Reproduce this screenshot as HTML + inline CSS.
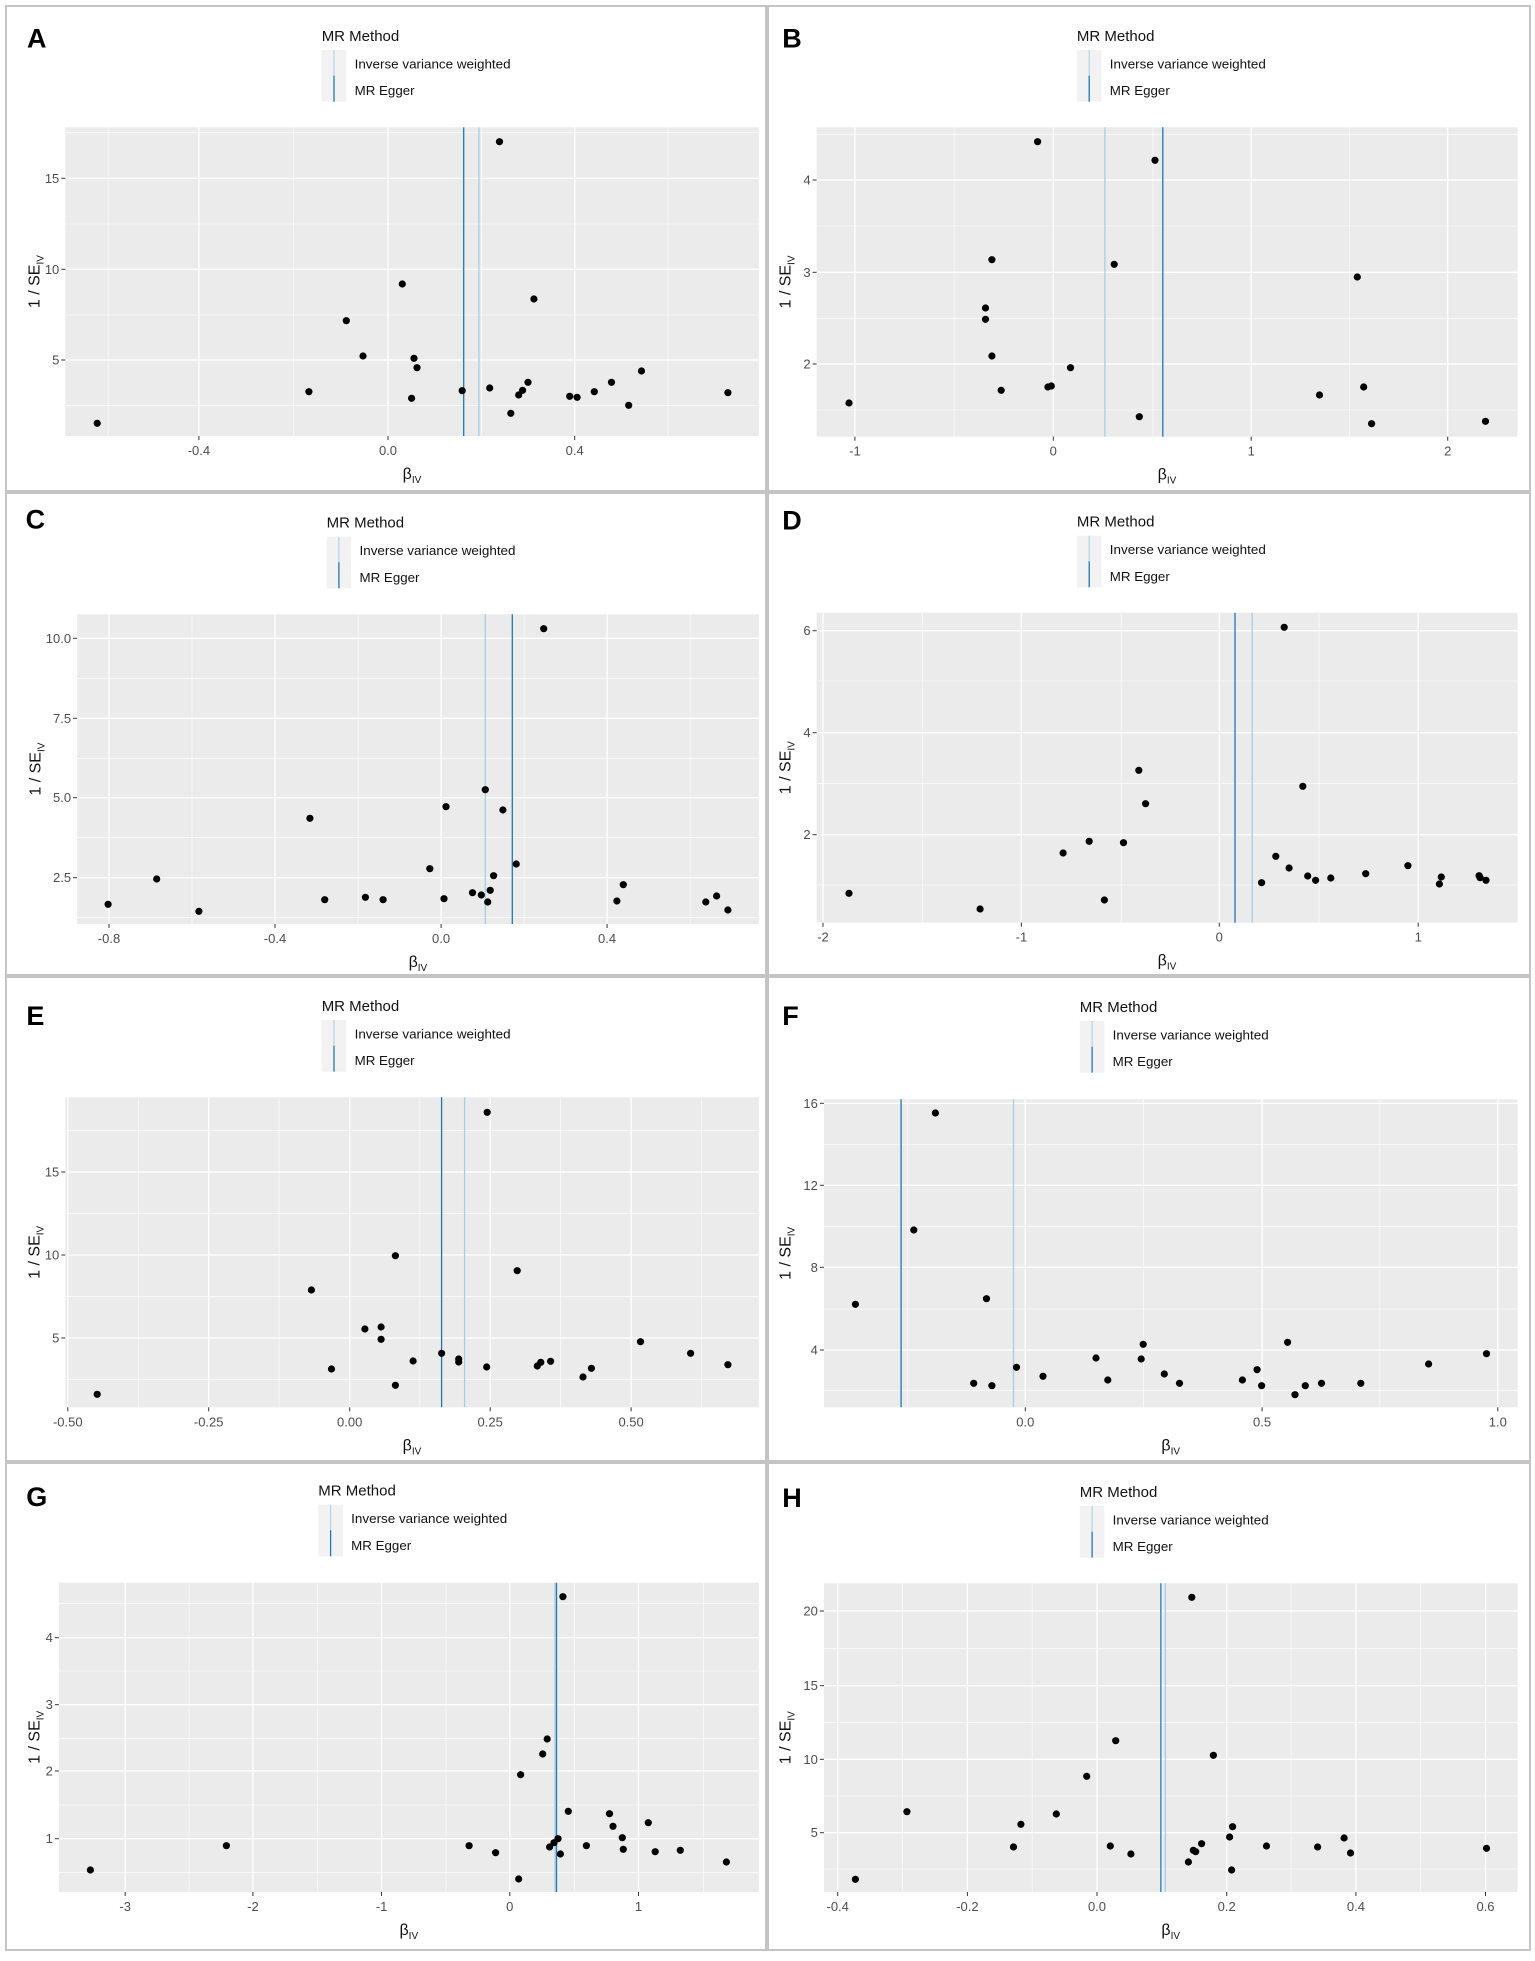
<!DOCTYPE html>
<html><head><meta charset="utf-8"><style>
html,body{margin:0;padding:0;background:#fff;}
svg text{font-family:"Liberation Sans",Arial,sans-serif;}
</style></head><body>
<svg id="s" xmlns="http://www.w3.org/2000/svg" width="1535" height="1956" viewBox="0 0 1535 1956">
<rect x="0" y="0" width="1535" height="1956" fill="#fff"/>
</svg>
<script>
var P=[
{o:[0,0],L:"A",lab:[75,112],leg:[655,105],pl:[133,382,1545,1308],
xt:[[405,"-0.4"],[790,"0.0"],[1170,"0.4"]],xm:[220,598,980,1360],
yt:[[535,"15"],[808,"10"],[1080,"5"]],ym:[398,672,945,1216],ivw:975,egg:944,
p:[[198,1270],[629,1175],[705,962],[739,1068],[819,852],[843,1075],[849,1103],[838,1195],[941,1172],[997,1164],[1017,425],[1040,1240],[1056,1185],[1064,1171],[1075,1147],[1087,897],[1160,1189],[1175,1192],[1210,1175],[1245,1147],[1280,1216],[1306,1113],[1482,1178]],yl:70},
{o:[765,0],L:"B",lab:[55,112],leg:[635,105],pl:[105,382,1532,1310],
xt:[[183,"-1"],[587,"0"],[990,"1"],[1390,"2"]],xm:[385,790,1190],
yt:[[540,"4"],[817,"3"],[1092,"2"]],ym:[403,678,955,1230],ivw:692,egg:810,
p:[[171,1209],[449,924],[449,958],[462,779],[462,1068],[481,1171],[555,425],[576,1161],[583,1158],[622,1103],[711,793],[762,1250],[794,481],[1129,1185],[1206,831],[1219,1161],[1235,1271],[1467,1264]],yl:42},
{o:[0,480],L:"C",lab:[72,115],leg:[665,125],pl:[157,403,1545,1332],
xt:[[222,"-0.8"],[560,"-0.4"],[898,"0.0"],[1236,"0.4"]],xm:[391,729,1067,1405],
yt:[[475,"10.0"],[715,"7.5"],[953,"5.0"],[1193,"2.5"]],ym:[595,835,1073,1312],ivw:988,egg:1043,
p:[[220,1273],[319,1197],[405,1294],[631,1015],[661,1259],[744,1252],[780,1259],[875,1166],[904,1256],[908,980],[962,1238],[980,1245],[993,1266],[998,1231],[988,929],[1005,1187],[1024,990],[1051,1152],[1107,446],[1256,1263],[1269,1214],[1437,1266],[1459,1248],[1482,1290]],yl:72},
{o:[765,480],L:"D",lab:[55,118],leg:[635,122],pl:[105,398,1532,1328],
xt:[[118,"-2"],[522,"-1"],[925,"0"],[1330,"1"]],xm:[320,725,1128],
yt:[[452,"6"],[758,"4"],[1064,"2"]],ym:[603,910,1215],ivw:992,egg:957,
p:[[171,1240],[438,1287],[607,1119],[660,1084],[691,1260],[730,1088],[761,871],[775,971],[1011,1208],[1040,1129],[1067,1164],[1057,442],[1095,919],[1105,1188],[1121,1201],[1152,1194],[1223,1181],[1309,1157],[1373,1212],[1377,1191],[1454,1187],[1456,1193],[1468,1201]],yl:42},
{o:[0,970],L:"E",lab:[72,135],leg:[655,105],pl:[133,382,1545,1312],
xt:[[138,"-0.50"],[425,"-0.25"],[712,"0.00"],[998,"0.25"],[1285,"0.50"]],xm:[282,568,855,1141,1428],
yt:[[606,"15"],[855,"10"],[1104,"5"]],ym:[482,730,979,1228],ivw:946,egg:899,
p:[[198,1273],[634,960],[675,1197],[743,1077],[776,1071],[776,1108],[805,857],[805,1246],[841,1173],[899,1150],[934,1167],[934,1176],[992,427],[991,1191],[1053,902],[1094,1188],[1101,1177],[1121,1174],[1187,1221],[1204,1195],[1304,1115],[1406,1150],[1482,1184]],yl:70},
{o:[765,970],L:"F",lab:[52,135],leg:[641,108],pl:[120,388,1532,1312],
xt:[[530,"0.0"],[1012,"0.5"],[1492,"1.0"]],xm:[290,771,1252],
yt:[[400,"16"],[646,"12"],[892,"8"],[1140,"4"]],ym:[523,769,1017,1262],ivw:506,egg:277,
p:[[184,1003],[303,780],[347,429],[425,1240],[451,986],[462,1247],[512,1192],[566,1219],[674,1164],[698,1230],[766,1167],[770,1123],[813,1212],[844,1240],[972,1230],[1002,1199],[1011,1247],[1064,1117],[1079,1274],[1100,1247],[1133,1240],[1213,1240],[1351,1182],[1469,1151]],yl:42},
{o:[0,1461],L:"G",lab:[75,105],leg:[648,86],pl:[120,365,1545,1293],
xt:[[255,"-3"],[515,"-2"],[777,"-1"],[1038,"0"],[1300,"1"]],xm:[385,647,908,1170,1432],
yt:[[530,"4"],[731,"3"],[930,"2"],[1133,"1"]],ym:[428,630,832,1032,1235],ivw:1130,egg:1133,
p:[[184,1227],[461,1154],[955,1154],[1009,1175],[1056,1254],[1060,941],[1105,879],[1114,834],[1119,1158],[1128,1145],[1136,1133],[1141,1179],[1146,407],[1157,1051],[1194,1154],[1241,1058],[1248,1096],[1267,1130],[1269,1165],[1320,1085],[1334,1172],[1385,1168],[1479,1203]],yl:70},
{o:[765,1461],L:"H",lab:[55,108],leg:[641,90],pl:[120,367,1532,1293],
xt:[[148,"-0.4"],[412,"-0.2"],[676,"0.0"],[940,"0.2"],[1203,"0.4"],[1467,"0.6"]],xm:[280,544,808,1071,1335],
yt:[[450,"20"],[674,"15"],[895,"10"],[1115,"5"]],ym:[562,785,1005,1224],ivw:815,egg:806,
p:[[184,1255],[289,1052],[506,1158],[521,1090],[593,1059],[655,946],[703,1155],[714,839],[745,1179],[862,1203],[869,409],[872,1168],[877,1172],[889,1148],[913,883],[946,1128],[950,1227],[952,1097],[1021,1155],[1125,1158],[1179,1131],[1192,1176],[1469,1162]],yl:42}
];
var h='';
var rows=[[6,491],[493,975],[977,1461],[1463,1950]];
rows.forEach(function(r){
 h+='<rect x="6" y="'+r[0]+'" width="760" height="'+(r[1]-r[0])+'" fill="none" stroke="#c4c4c4" stroke-width="2"/>';
 h+='<rect x="768" y="'+r[0]+'" width="762" height="'+(r[1]-r[0])+'" fill="none" stroke="#c4c4c4" stroke-width="2"/>';
});
P.forEach(function(q){
 var ox=q.o[0],oy=q.o[1];
 function X(z){return (ox+z/2.036).toFixed(1);}
 function Y(z){return (oy+z/3).toFixed(1);}
 var pl=q.pl,x0=+X(pl[0]),y0=+Y(pl[1]),x1=+X(pl[2]),y1=+Y(pl[3]);
 h+='<rect x="'+x0+'" y="'+y0+'" width="'+(x1-x0).toFixed(1)+'" height="'+(y1-y0).toFixed(1)+'" fill="#ebebeb"/>';
 q.xm.forEach(function(z){h+='<line x1="'+X(z)+'" x2="'+X(z)+'" y1="'+y0+'" y2="'+y1+'" stroke="#fff" stroke-width="0.6"/>';});
 q.ym.forEach(function(z){h+='<line y1="'+Y(z)+'" y2="'+Y(z)+'" x1="'+x0+'" x2="'+x1+'" stroke="#fff" stroke-width="0.6"/>';});
 q.xt.forEach(function(t){var x=X(t[0]);
  h+='<line x1="'+x+'" x2="'+x+'" y1="'+y0+'" y2="'+y1+'" stroke="#fff" stroke-width="1.3"/>';
  h+='<line x1="'+x+'" x2="'+x+'" y1="'+y1+'" y2="'+(y1+4)+'" stroke="#333" stroke-width="1"/>';
  h+='<text x="'+x+'" y="'+(y1+19)+'" font-size="13" fill="#4d4d4d" text-anchor="middle">'+t[1]+'</text>';});
 q.yt.forEach(function(t){var y=+Y(t[0]);
  h+='<line y1="'+y+'" y2="'+y+'" x1="'+x0+'" x2="'+x1+'" stroke="#fff" stroke-width="1.3"/>';
  h+='<line y1="'+y+'" y2="'+y+'" x1="'+(x0-4)+'" x2="'+x0+'" stroke="#333" stroke-width="1"/>';
  h+='<text x="'+(x0-6)+'" y="'+(y+4.5)+'" font-size="13" fill="#4d4d4d" text-anchor="end">'+t[1]+'</text>';});
 h+='<line x1="'+X(q.ivw)+'" x2="'+X(q.ivw)+'" y1="'+y0+'" y2="'+y1+'" stroke="#a6cee3" stroke-width="1.3"/>';
 h+='<line x1="'+X(q.egg)+'" x2="'+X(q.egg)+'" y1="'+y0+'" y2="'+y1+'" stroke="#1f78b4" stroke-width="1.3"/>';
 q.p.forEach(function(p){h+='<circle cx="'+X(p[0])+'" cy="'+Y(p[1])+'" r="3.6" fill="#000"/>';});
 h+='<text x="'+X(q.lab[0])+'" y="'+(+Y(q.lab[1])+10)+'" font-size="27" font-weight="bold" text-anchor="middle" fill="#000">'+q.L+'</text>';
 var lx=q.leg[0],ly=q.leg[1];
 h+='<text x="'+X(lx)+'" y="'+(+Y(ly)+6)+'" font-size="15" fill="#111">MR Method</text>';
 h+='<rect x="'+X(lx)+'" y="'+Y(ly+45)+'" width="24.5" height="'+(155/3).toFixed(1)+'" fill="#f2f2f2"/>';
 h+='<line x1="'+X(lx+25)+'" x2="'+X(lx+25)+'" y1="'+Y(ly+45)+'" y2="'+Y(ly+122)+'" stroke="#a6cee3" stroke-width="1"/>';
 h+='<line x1="'+X(lx+25)+'" x2="'+X(lx+25)+'" y1="'+Y(ly+122)+'" y2="'+Y(ly+200)+'" stroke="#1f78b4" stroke-width="1.3"/>';
 h+='<text x="'+X(lx+67)+'" y="'+(+Y(ly+87)+4.5)+'" font-size="12.5" fill="#111" textLength="156" lengthAdjust="spacingAndGlyphs">Inverse variance weighted</text>';
 h+='<text x="'+X(lx+67)+'" y="'+(+Y(ly+167)+4.5)+'" font-size="12.5" fill="#111" textLength="60" lengthAdjust="spacingAndGlyphs">MR Egger</text>';
 var cx=(x0+x1)/2, cy=(y0+y1)/2;
 h+='<text x="'+cx.toFixed(1)+'" y="'+(y1+43)+'" font-size="16" fill="#111" text-anchor="middle">β<tspan font-size="10" dy="4">IV</tspan></text>';
 var yx=+X(q.yl)+5;
 h+='<text transform="translate('+yx+','+cy.toFixed(1)+') rotate(-90)" font-size="16" fill="#111" text-anchor="middle">1 / SE<tspan font-size="10" dy="4">IV</tspan></text>';
});
document.getElementById('s').insertAdjacentHTML('beforeend',h);
</script>
</body></html>
